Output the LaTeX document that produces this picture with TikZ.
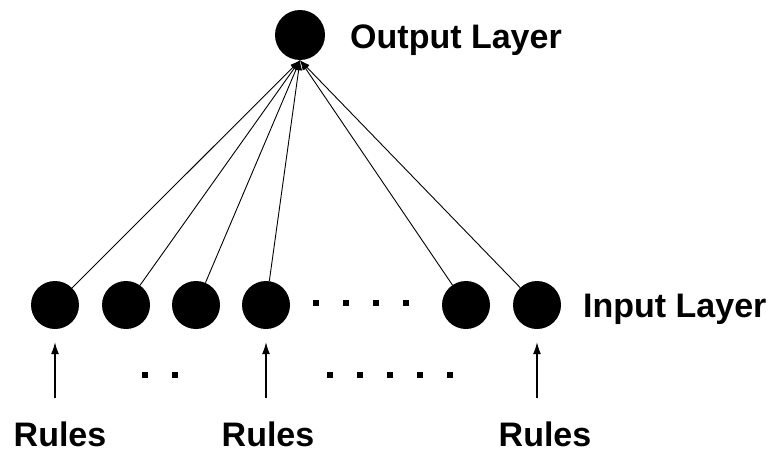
\documentclass[tikz,border=0pt]{standalone}
\usepackage{fontspec}
\setmainfont{Liberation Sans}
\usetikzlibrary{arrows.meta}

\tikzset{
  neuron/.style={circle, fill=black, inner sep=0pt, minimum size=48pt},
  layertext/.style={font=\fontsize{34}{40}\selectfont\bfseries, inner sep=0pt},
  link/.style={line width=0.9pt, -{Latex[length=10pt,width=7pt]}},
  feed/.style={line width=1.2pt, -{Latex[length=12pt,width=8pt]}, shorten >=13pt}
}

\begin{document}
\begin{tikzpicture}[x=1pt,y=-1pt]
    \useasboundingbox (0,0) rectangle (778,455);

    \node[neuron, minimum size=50pt] (out) at (300,35) {};
    \node[neuron] (in1) at (55,305) {};
    \node[neuron] (in2) at (126,305) {};
    \node[neuron] (in3) at (196,305) {};
    \node[neuron] (in4) at (266,305) {};
    \node[neuron] (in5) at (466,305) {};
    \node[neuron] (in6) at (537,305) {};

    \node[layertext, anchor=base west] (outlabel) at (350,48) {Output Layer};
    \node[layertext, anchor=base west] (inlabel) at (583,317) {Input Layer};

    % dots between inputs
    \foreach \x in {316,346,376,406}
        \fill (\x-3,300) rectangle ++(6,6);
    \foreach \x in {145,175,330,360,390,420,450}
        \fill (\x-3,372) rectangle ++(6,6);

    % input -> output
    \foreach \i in {1,...,6}
        \draw[link] (in\i) -- (out.south);

    % rules feeding the inputs
    \coordinate (r1) at (55,398);
    \coordinate (r4) at (266,398);
    \coordinate (r6) at (537,398);
    \draw[feed] (r1) -- (in1.south);
    \draw[feed] (r4) -- (in4.south);
    \draw[feed] (r6) -- (in6.south);

    \node[layertext, anchor=base] (rules1) at (60,446) {Rules};
    \node[layertext, anchor=base] (rules4) at (268,446) {Rules};
    \node[layertext, anchor=base] (rules6) at (545,446) {Rules};
\end{tikzpicture}
\end{document}
